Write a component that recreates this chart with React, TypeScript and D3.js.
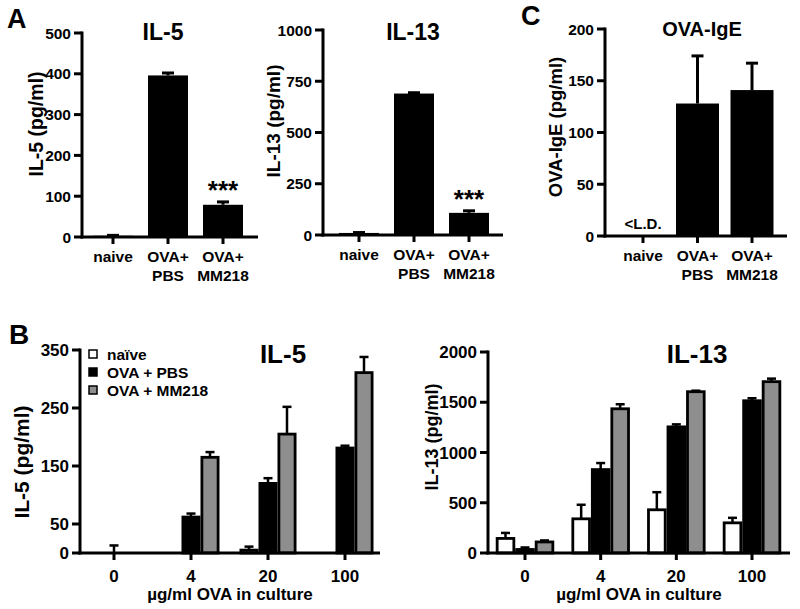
import React from 'react';
import * as d3 from 'd3';

const FONT = "'Liberation Sans', Arial, Helvetica, sans-serif";

// Panel A / C categories
const catsA = ["naive", "OVA+PBS", "OVA+MM218"];
const catLine1 = ["naive", "OVA+", "OVA+"];
const catLine2 = ["", "PBS", "MM218"];

const il5A = [3, 396, 79];
const il5AErr = [1, 6, 7];
const il13A = [10, 690, 108];
const il13AErr = [2, 4, 10];
const igeC = [0, 128, 141];
const igeCErr = [0, 46, 26];

const ticksIl5A = [0, 100, 200, 300, 400, 500];
const ticksIl13A = [0, 250, 500, 750, 1000];
const ticksIgeC = [0, 50, 100, 150, 200];

// Panel B
const doses = ["0", "4", "20", "100"];
const seriesNames = ["naïve", "OVA + PBS", "OVA + MM218"];
const seriesFill = ["#ffffff", "#000000", "#8e8e8e"];

const il5BNaive = [0, 0, 5, 0];
const il5BNaiveErr = [0, 0, 6, 0];
const il5BPbs = [0, 62, 120, 181];
const il5BPbsErr = [13, 6, 9, 4];
const il5BMm = [0, 165, 205, 311];
const il5BMmErr = [0, 9, 47, 27];

const il13BNaive = [145, 340, 430, 300];
const il13BNaiveErr = [55, 140, 175, 50];
const il13BPbs = [35, 830, 1255, 1515];
const il13BPbsErr = [20, 65, 25, 25];
const il13BMm = [110, 1435, 1605, 1705];
const il13BMmErr = [15, 45, 10, 30];

const ticksIl5B = [0, 50, 150, 250, 350];
const ticksIl13B = [0, 500, 1000, 1500, 2000];

type AxisProps = {
  x0: number; x1: number; yTop: number; yBottom: number;
  y: d3.ScaleLinear<number, number>; ticks: number[];
  xTicks: number[]; tickSize: number;
};

function Axes({ x0, x1, yTop, yBottom, y, ticks, xTicks, tickSize }: AxisProps) {
  return (
    <g>
      <line x1={x0} x2={x0} y1={yTop - 1.5} y2={yBottom + 1.5} stroke="#000" strokeWidth={3} />
      <line x1={x0 - 1.5} x2={x1} y1={yBottom} y2={yBottom} stroke="#000" strokeWidth={3} />
      {ticks.map((t) => (
        <g key={t}>
          <line x1={x0 - 8} x2={x0} y1={y(t)} y2={y(t)} stroke="#000" strokeWidth={3} />
          <text x={x0 - 11} y={y(t)} dy="0.36em" textAnchor="end" fontSize={tickSize} fontWeight="bold" fontFamily={FONT}>{t}</text>
        </g>
      ))}
      {xTicks.map((cx, i) => (
        <line key={i} x1={cx} x2={cx} y1={yBottom} y2={yBottom + 7} stroke="#000" strokeWidth={3} />
      ))}
    </g>
  );
}

type SimpleProps = {
  x0: number; x1: number; yTop: number; yBottom: number; max: number; ticks: number[];
  c0: number; c1: number; barW: number; values: number[]; errs: number[];
  title: string; titleX: number; titleY: number; titleSize: number;
  ylabel: string; ylabelX: number; ylabelY: number; ylabelSize: number;
  stars?: boolean; ld?: boolean;
};

function SimplePanel(p: SimpleProps) {
  const y = d3.scaleLinear().domain([0, p.max]).range([p.yBottom, p.yTop]);
  const x = d3.scalePoint<string>().domain(catsA).range([p.c0, p.c1]);
  const centers = catsA.map((c) => x(c) as number);
  return (
    <g>
      {p.values.map((v, i) => {
        const cx = centers[i];
        if (v <= 0) return null;
        const top = y(v);
        const et = y(v + p.errs[i]);
        return (
          <g key={i}>
            <rect x={cx - p.barW / 2} y={top} width={p.barW} height={p.yBottom - top} fill="#000" />
            {p.errs[i] > 0 && (
              <g>
                <line x1={cx} x2={cx} y1={top} y2={et} stroke="#000" strokeWidth={3} />
                <line x1={cx - 6} x2={cx + 6} y1={et} y2={et} stroke="#000" strokeWidth={3} />
              </g>
            )}
          </g>
        );
      })}
      <Axes x0={p.x0} x1={p.x1} yTop={p.yTop} yBottom={p.yBottom} y={y} ticks={p.ticks} xTicks={centers} tickSize={15.5} />
      {centers.map((cx, i) => (
        <text key={i} x={cx} textAnchor="middle" fontSize={15.5} fontWeight="bold" fontFamily={FONT}>
          <tspan x={cx} y={p.yBottom + 25}>{catLine1[i]}</tspan>
          {catLine2[i] && <tspan x={cx} y={p.yBottom + 44}>{catLine2[i]}</tspan>}
        </text>
      ))}
      {p.stars && (
        <text x={centers[2]} y={y(p.values[2] + p.errs[2]) - 3} textAnchor="middle" fontSize={26} fontWeight="bold" fontFamily={FONT} dy="0.55em" transform={`translate(0,-14)`}>***</text>
      )}
      {p.ld && (
        <text x={centers[0]} y={p.yBottom - 7} textAnchor="middle" fontSize={15} fontWeight="bold" fontFamily={FONT}>&lt;L.D.</text>
      )}
      <text x={p.titleX} y={p.titleY} textAnchor="middle" fontSize={p.titleSize} fontWeight="bold" fontFamily={FONT}>{p.title}</text>
      <text transform={`translate(${p.ylabelX},${p.ylabelY}) rotate(-90)`} textAnchor="middle" fontSize={p.ylabelSize} fontWeight="bold" fontFamily={FONT}>{p.ylabel}</text>
    </g>
  );
}

type GroupProps = {
  x0: number; x1: number; yTop: number; yBottom: number; max: number; ticks: number[];
  g0: number; g1: number; barW: number; series: number[][]; errs: number[][];
  title: string; titleX: number; titleY: number;
  ylabel: string; ylabelX: number; ylabelY: number; ylabelSize: number; legend?: boolean;
};

function GroupPanel(p: GroupProps) {
  const y = d3.scaleLinear().domain([0, p.max]).range([p.yBottom, p.yTop]);
  const x = d3.scalePoint<string>().domain(doses).range([p.g0, p.g1]);
  const sub = d3.scaleBand<number>().domain([0, 1, 2]).range([-1.5 * p.barW, 1.5 * p.barW]);
  const centers = doses.map((d) => x(d) as number);
  return (
    <g>
      {p.series.map((vals, s) =>
        vals.map((v, i) => {
          const bx = centers[i] + (sub(s) as number);
          const cx = bx + p.barW / 2;
          const top = y(v);
          const e = p.errs[s][i];
          const et = y(v + e);
          return (
            <g key={`${s}-${i}`}>
              {v > 0 && (
                <rect x={bx + 1.4} y={top} width={p.barW - 2.8} height={p.yBottom - top} fill={seriesFill[s]} stroke="#000" strokeWidth={2.8} />
              )}
              {e > 0 && (
                <g>
                  <line x1={cx} x2={cx} y1={top} y2={et} stroke="#000" strokeWidth={2.5} />
                  <line x1={cx - 4.5} x2={cx + 4.5} y1={et} y2={et} stroke="#000" strokeWidth={2.5} />
                </g>
              )}
            </g>
          );
        })
      )}
      <Axes x0={p.x0} x1={p.x1} yTop={p.yTop} yBottom={p.yBottom} y={y} ticks={p.ticks} xTicks={centers} tickSize={17} />
      {centers.map((cx, i) => (
        <text key={i} x={cx} y={p.yBottom + 29} textAnchor="middle" fontSize={17} fontWeight="bold" fontFamily={FONT}>{doses[i]}</text>
      ))}
      <text x={(p.x0 + p.x1) / 2} y={p.yBottom + 47} textAnchor="middle" fontSize={17} fontWeight="bold" fontFamily={FONT}>µg/ml OVA in culture</text>
      <text x={p.titleX} y={p.titleY} textAnchor="middle" fontSize={26} fontWeight="bold" fontFamily={FONT}>{p.title}</text>
      <text transform={`translate(${p.ylabelX},${p.ylabelY}) rotate(-90)`} textAnchor="middle" fontSize={p.ylabelSize} fontWeight="bold" fontFamily={FONT}>{p.ylabel}</text>
      {p.legend && seriesNames.map((n, s) => (
        <g key={n} transform={`translate(${p.x0 + 9},${p.yTop + 4 + s * 18})`}>
          <rect x={0} y={-4} width={8} height={8} fill={seriesFill[s]} stroke="#000" strokeWidth={1.5} />
          <text x={18} y={0} dy="0.36em" fontSize={15.5} fontWeight="bold" fontFamily={FONT}>{n}</text>
        </g>
      ))}
    </g>
  );
}

export default function App() {
  return (
    <svg width={800} height={609} viewBox="0 0 800 609" style={{ display: 'block', position: 'absolute', left: 0, top: 0, background: '#fff' }}>
      <rect width={800} height={609} fill="#fff" />
      <text x={7} y={28} fontSize={27} fontWeight="bold" fontFamily={FONT}>A</text>
      <text x={521} y={25} fontSize={27} fontWeight="bold" fontFamily={FONT}>C</text>
      <text x={9} y={344} fontSize={28} fontWeight="bold" fontFamily={FONT}>B</text>

      <SimplePanel x0={82} x1={258} yTop={33} yBottom={237} max={500} ticks={ticksIl5A}
        c0={113} c1={223} barW={40} values={il5A} errs={il5AErr}
        title="IL-5" titleX={163} titleY={40} titleSize={23}
        ylabel="IL-5 (pg/ml)" ylabelX={43} ylabelY={124} ylabelSize={19.5} stars />
      <SimplePanel x0={323} x1={503} yTop={30} yBottom={235} max={1000} ticks={ticksIl13A}
        c0={359} c1={469} barW={40} values={il13A} errs={il13AErr}
        title="IL-13" titleX={413} titleY={40} titleSize={23}
        ylabel="IL-13 (pg/ml)" ylabelX={280} ylabelY={121} ylabelSize={19} stars />
      <SimplePanel x0={605} x1={787} yTop={29} yBottom={236} max={200} ticks={ticksIgeC}
        c0={643} c1={752} barW={43} values={igeC} errs={igeCErr}
        title="OVA-IgE" titleX={702} titleY={36} titleSize={20}
        ylabel="OVA-IgE (pg/ml)" ylabelX={562} ylabelY={127} ylabelSize={18.5} ld />

      <GroupPanel x0={80} x1={380} yTop={350} yBottom={553} max={350} ticks={ticksIl5B}
        g0={114} g1={345} barW={19}
        series={[il5BNaive, il5BPbs, il5BMm]} errs={[il5BNaiveErr, il5BPbsErr, il5BMmErr]}
        title="IL-5" titleX={283} titleY={363}
        ylabel="IL-5 (pg/ml)" ylabelX={29} ylabelY={462} ylabelSize={21} legend />
      <GroupPanel x0={488} x1={790} yTop={352} yBottom={553} max={2000} ticks={ticksIl13B}
        g0={525} g1={752} barW={19.5}
        series={[il13BNaive, il13BPbs, il13BMm]} errs={[il13BNaiveErr, il13BPbsErr, il13BMmErr]}
        title="IL-13" titleX={697} titleY={363}
        ylabel="IL-13 (pg/ml)" ylabelX={438} ylabelY={437} ylabelSize={18} />
    </svg>
  );
}
